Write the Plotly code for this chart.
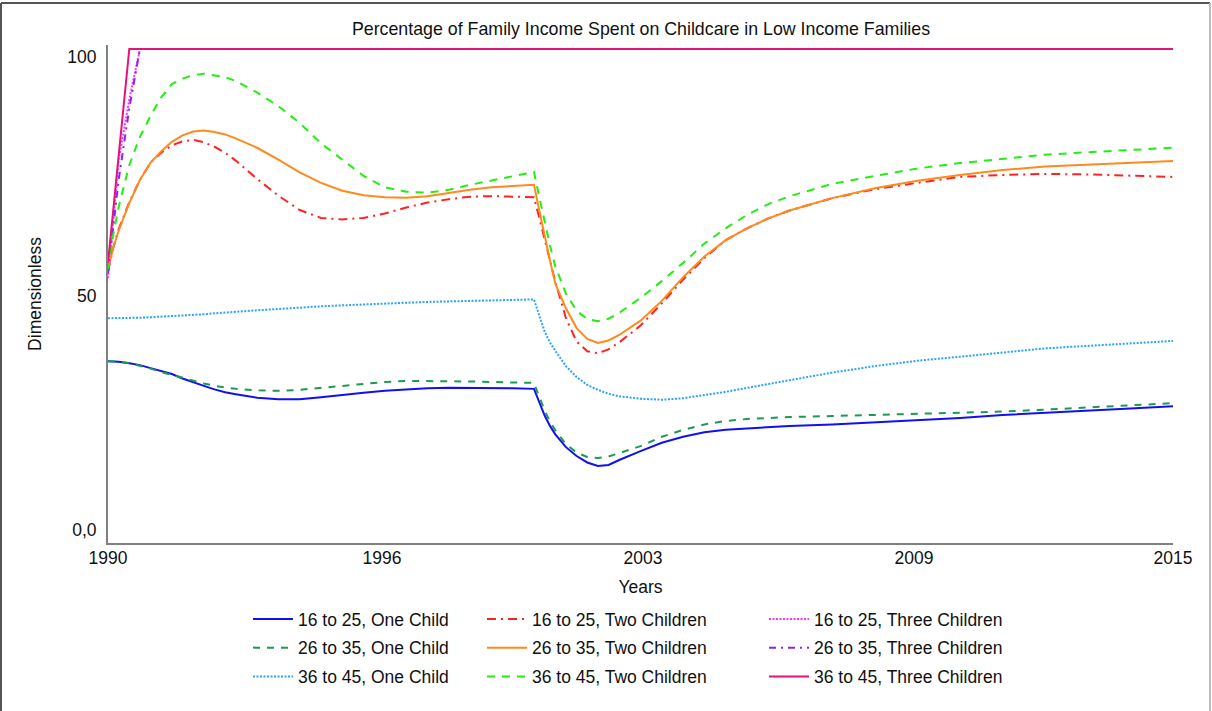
import plotly.graph_objects as go

# Simulation output, sampled on a common time grid (years)
years = [1990, 1990.125, 1990.25, 1990.5, 1990.75, 1991, 1991.25, 1991.5, 1991.75,
         1992, 1992.25, 1992.5, 1992.75, 1993, 1993.5,
         1994, 1994.5, 1995, 1995.5, 1996, 1996.5, 1997, 1997.5, 1998, 1998.5,
         1999, 1999.5, 2000, 2000.125, 2000.25, 2000.375, 2000.5, 2000.75, 2001,
         2001.25, 2001.5, 2001.75, 2002, 2002.5, 2003, 2003.5, 2004, 2004.5,
         2005, 2005.5, 2006, 2007, 2008, 2009, 2010, 2011, 2012, 2013, 2014, 2015]

age_16_25_one = [36.8, 36.8, 36.7, 36.4, 36.0, 35.4, 34.8, 34.2, 33.3,
                 32.5, 31.8, 31.1, 30.5, 30.1, 29.4,
                 29.1, 29.1, 29.5, 30.0, 30.4, 30.8, 31.1, 31.3, 31.4, 31.4,
                 31.4, 31.3, 31.2, 28.3, 25.8, 23.7, 22.0, 19.4, 17.6,
                 16.3, 15.6, 15.8, 16.8, 18.6, 20.3, 21.5, 22.4, 22.9,
                 23.2, 23.4, 23.7, 24.0, 24.4, 24.8, 25.3, 25.9, 26.3, 26.7, 27.2, 27.7]

age_26_35_one = [36.8, 36.8, 36.7, 36.4, 35.9, 35.3, 34.6, 34.0, 33.4,
                 32.8, 32.3, 31.8, 31.5, 31.2, 30.9,
                 30.8, 31.0, 31.4, 31.9, 32.3, 32.6, 32.8, 32.8, 32.8, 32.7,
                 32.6, 32.5, 32.4, 29.5, 26.8, 24.6, 22.8, 20.0, 18.3,
                 17.4, 17.2, 17.5, 18.2, 19.6, 21.5, 22.9, 24.0, 24.7,
                 25.1, 25.3, 25.5, 25.7, 25.9, 26.1, 26.4, 26.6, 27.0, 27.4, 27.8, 28.3]

age_36_45_one = [45.5, 45.5, 45.5, 45.5, 45.6, 45.7, 45.8, 45.9, 46.0,
                 46.2, 46.3, 46.5, 46.6, 46.8, 47.1,
                 47.4, 47.7, 47.9, 48.1, 48.3, 48.5, 48.6, 48.8, 48.9, 49.0,
                 49.1, 49.2, 49.3, 46.0, 42.8, 40.6, 38.9, 35.8, 33.6,
                 32.0, 31.0, 30.2, 29.7, 29.2, 29.0, 29.3, 29.9, 30.6,
                 31.4, 32.2, 33.0, 34.5, 35.8, 36.9, 37.7, 38.6, 39.4, 39.9, 40.4, 40.9]

age_16_25_two = [55.0, 59.8, 63.5, 69.0, 73.5, 77.0, 79.0, 80.5, 81.3,
                 81.6, 81.1, 80.2, 79.0, 77.4, 73.7,
                 70.3, 67.4, 65.8, 65.5, 65.8, 66.7, 67.9, 68.9, 69.6, 70.1,
                 70.2, 70.1, 70.0, 65.8, 61.5, 57.2, 52.9, 45.5, 40.8,
                 38.8, 38.4, 39.2, 40.6, 44.0, 48.5, 53.3, 57.7, 61.3,
                 63.7, 65.7, 67.3, 69.8, 71.6, 72.9, 74.1, 74.5, 74.7, 74.6, 74.4, 74.1]

age_26_35_two = [55.5, 59.8, 63.2, 68.8, 73.5, 77.0, 79.3, 81.2, 82.5,
                 83.3, 83.5, 83.2, 82.7, 81.9, 80.0,
                 77.6, 75.0, 72.9, 71.3, 70.4, 70.0, 69.9, 70.2, 70.9, 71.5,
                 72.0, 72.3, 72.5, 67.3, 62.0, 57.2, 52.5, 47.5, 43.5,
                 41.3, 40.5, 41.0, 42.1, 45.0, 49.0, 53.8, 58.0, 61.3,
                 63.7, 65.7, 67.3, 69.8, 71.8, 73.3, 74.5, 75.5, 76.2, 76.6, 77.0, 77.3]

age_36_45_two = [55.5, 62.5, 68.0, 76.5, 82.2, 86.5, 90.2, 92.9, 94.0,
                 94.7, 95.0, 94.7, 94.3, 93.5, 91.2,
                 88.4, 85.0, 80.9, 77.6, 74.3, 72.0, 71.1, 70.9, 71.5, 72.5,
                 73.4, 74.3, 75.1, 70.0, 64.8, 60.2, 56.0, 50.5, 47.0,
                 45.3, 44.9, 45.4, 46.6, 49.6, 53.0, 56.7, 60.6, 63.7,
                 66.4, 68.6, 70.2, 72.7, 74.3, 75.8, 76.9, 77.8, 78.6, 79.1, 79.6, 80.0]

age_16_25_three = [53.6, 65.5, 77.5, 89.8] + [100.0] * 51
age_26_35_three = [54.6, 64.0, 73.5, 88.0] + [100.0] * 51
age_36_45_three = [56.7, 67.5, 78.4] + [100.0] * 52

x_tick_vals = [1990, 1996.43, 2002.56, 2008.92, 2015]
x_tick_text = ["1990", "1996", "2003", "2009", "2015"]
y_tick_vals = [2.6, 50, 98.4]
y_tick_text = ["0,0", "50", "100"]

FONT = "Liberation Sans, Arial, sans-serif"

# (name, values, colour, dash, legend)
series = [
    ("16 to 25, One Child", age_16_25_one, "#1010F0", "solid", "legend"),
    ("16 to 25, Two Children", age_16_25_two, "#FF2222", "9px,5px,2px,5px", "legend2"),
    ("16 to 25, Three Children", age_16_25_three, "#FF33FF", "2px,1.5px", "legend3"),
    ("26 to 35, One Child", age_26_35_one, "#1E9A4E", "7px,7px", "legend"),
    ("26 to 35, Two Children", age_26_35_two, "#FF8A1C", "solid", "legend2"),
    ("26 to 35, Three Children", age_26_35_three, "#8A22FF", "7px,5px,2px,5px", "legend3"),
    ("36 to 45, One Child", age_36_45_one, "#2AA4FF", "2px,1.5px", "legend"),
    ("36 to 45, Two Children", age_36_45_two, "#22EE11", "8px,7px", "legend2"),
    ("36 to 45, Three Children", age_36_45_three, "#E8107A", "solid", "legend3"),
]

fig = go.Figure()
for name, vals, color, dash, leg in series:
    fig.add_trace(go.Scatter(
        x=years, y=vals, mode="lines", name=name,
        line=dict(color=color, width=2, dash=dash),
        legend=leg, legendgroup=name,
    ))

L, R, T, B = 108, 39, 45, 168
W, H = 1212, 711
PW, PH = W - L - R, H - T - B


def px_x(px):
    return (px - L) / PW


def px_y(py):
    return (H - B - py) / PH


legend_common = dict(
    orientation="v", yanchor="top", xanchor="left",
    y=px_y(601), font=dict(family=FONT, size=17.5, color="#111111"),
    itemwidth=40, tracegroupgap=3, traceorder="grouped",
    bgcolor="rgba(0,0,0,0)", itemclick=False,
)

fig.update_layout(
    width=W, height=H,
    margin=dict(l=L, r=R, t=T, b=B, autoexpand=False),
    paper_bgcolor="white", plot_bgcolor="white",
    font=dict(family=FONT, size=17.5, color="#111111"),
    title=dict(
        text="Percentage of Family Income Spent on Childcare in Low Income Families",
        x=px_x(641), xref="paper", xanchor="center",
        y=1 - 29 / H, yref="container", yanchor="middle",
        font=dict(family=FONT, size=17.8, color="#111111"),
    ),
    xaxis=dict(
        range=[1990, 2015], tickvals=x_tick_vals, ticktext=x_tick_text,
        showgrid=False, zeroline=False, showline=True, linecolor="#808080",
        linewidth=2, ticks="", ticklabelstandoff=-2,
        title=dict(text="Years", standoff=14, font=dict(family=FONT, size=17.5)),
    ),
    yaxis=dict(
        range=[0, 100.8], tickvals=y_tick_vals, ticktext=y_tick_text,
        showgrid=False, zeroline=False, showline=True, linecolor="#808080",
        linewidth=2, ticks="", ticklabelstandoff=6,
        title=dict(text="Dimensionless", standoff=21, font=dict(family=FONT, size=17.5)),
    ),
    legend=dict(x=px_x(248), **legend_common),
    legend2=dict(x=px_x(482), **legend_common),
    legend3=dict(x=px_x(764), **legend_common),
    showlegend=True,
)

# Outer frame of the chart panel
frame = [
    (px_x(1), px_y(3), px_x(1210), px_y(3), "#555555"),
    (px_x(1), px_y(3), px_x(1), px_y(711), "#555555"),
    (px_x(1210), px_y(3), px_x(1210), px_y(711), "#BBBBBB"),
]
for x0, y0, x1, y1, c in frame:
    fig.add_shape(type="line", xref="paper", yref="paper",
                  x0=x0, y0=y0, x1=x1, y1=y1, line=dict(color=c, width=2))

fig.write_html("out.html")
